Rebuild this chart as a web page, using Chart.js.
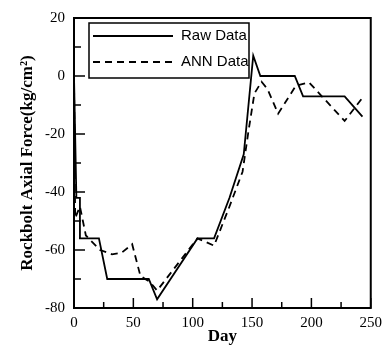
<!DOCTYPE html>
<html>
<head>
<meta charset="utf-8">
<script src="https://cdn.jsdelivr.net/npm/chart.js@4"></script>
<style>
  html, body { margin: 0; padding: 0; background: #fff; }
  #wrap { width: 388px; height: 350px; }
</style>
</head>
<body>
<div id="wrap"><canvas id="forceChart" width="388" height="350"></canvas></div>
<script>
const seriesNames = ["Raw Data", "ANN Data"];

const rawDays  = [0, 2, 5, 5, 21, 28, 63, 70, 104, 118, 131, 143, 151, 157, 186, 193, 228, 243];
const rawForce = [0, -42, -42, -56, -56, -70, -70, -77, -56, -56, -42, -27, 7, 0, 0, -7, -7, -14];

const annDays  = [0, 1, 5, 10, 22, 32, 40, 49, 56, 64, 70, 104, 118, 131, 142, 147, 152, 158, 163, 172, 187, 198, 228, 243];
const annForce = [0, -49, -45, -55, -60, -61.5, -61, -58, -69, -71, -74, -56, -58.5, -45, -33, -19, -6, -2, -4.5, -13, -3.3, -2.2, -15.5, -7.5];

const xTicks = [0, 50, 100, 150, 200, 250];
const yTicks = [-80, -60, -40, -20, 0, 20];

function toPoints(xs, ys) {
  return xs.map((x, i) => ({ x: x, y: ys[i] }));
}

const serif = "'Liberation Serif', 'Times New Roman', serif";

// box around the plot, inward ticks and the framed legend
const framePlugin = {
  id: "frame",
  afterDraw(chart) {
    const { ctx, chartArea: a, scales } = chart;
    ctx.save();
    ctx.strokeStyle = "#000";
    ctx.lineWidth = 2;
    ctx.strokeRect(a.left, a.top, a.right - a.left, a.bottom - a.top);

    ctx.lineWidth = 1.5;
    for (let v = 0; v <= 250; v += 25) {
      const px = scales.x.getPixelForValue(v);
      const len = v % 50 === 0 ? 10 : 6;
      ctx.beginPath();
      ctx.moveTo(px, a.bottom);
      ctx.lineTo(px, a.bottom - len);
      ctx.stroke();
    }
    for (let v = -80; v <= 20; v += 10) {
      const py = scales.y.getPixelForValue(v);
      const len = v % 20 === 0 ? 11 : 7;
      ctx.beginPath();
      ctx.moveTo(a.left, py);
      ctx.lineTo(a.left + len, py);
      ctx.stroke();
    }

    // legend
    const lx = a.left + 15, ly = a.top + 5;
    ctx.lineWidth = 1.5;
    ctx.strokeRect(lx, ly, 160, 55);
    ctx.font = "15px 'Liberation Sans', Arial, sans-serif";
    ctx.fillStyle = "#000";
    ctx.textBaseline = "middle";
    chart.data.datasets.forEach((ds, i) => {
      const yy = ly + 13 + i * 26;
      ctx.setLineDash(ds.borderDash || []);
      ctx.lineWidth = ds.borderWidth;
      ctx.beginPath();
      ctx.moveTo(lx + 4, yy);
      ctx.lineTo(lx + 84, yy);
      ctx.stroke();
      ctx.setLineDash([]);
      ctx.fillText(ds.label, lx + 92, yy);
    });
    ctx.restore();
  }
};

new Chart(document.getElementById("forceChart"), {
  type: "line",
  data: {
    datasets: [
      {
        label: seriesNames[0],
        data: toPoints(rawDays, rawForce),
        borderColor: "#000",
        borderWidth: 1.8,
        pointRadius: 0,
        tension: 0,
        fill: false
      },
      {
        label: seriesNames[1],
        data: toPoints(annDays, annForce),
        borderColor: "#000",
        borderWidth: 1.8,
        borderDash: [7, 5],
        pointRadius: 0,
        tension: 0,
        fill: false
      }
    ]
  },
  options: {
    responsive: false,
    animation: false,
    layout: { padding: { top: 15, right: 11, left: 0, bottom: 0 } },
    plugins: {
      legend: { display: false },
      tooltip: { enabled: false }
    },
    scales: {
      x: {
        type: "linear",
        min: 0,
        max: 250,
        afterBuildTicks: s => { s.ticks = xTicks.map(v => ({ value: v })); },
        afterFit: s => { s.height = 42; },
        grid: { display: false, drawTicks: false },
        border: { display: true, color: "#000", width: 2 },
        ticks: { color: "#000", padding: 6, maxRotation: 0, font: { family: serif, size: 15 } },
        title: {
          display: true,
          text: "Day",
          color: "#000",
          padding: { top: 0, bottom: 3 },
          font: { family: serif, size: 17, weight: "bold" }
        }
      },
      y: {
        type: "linear",
        min: -80,
        max: 20,
        afterBuildTicks: s => { s.ticks = yTicks.map(v => ({ value: v })); },
        afterFit: s => { s.width = 74; },
        grid: { display: false, drawTicks: false },
        border: { display: true, color: "#000", width: 2 },
        ticks: { color: "#000", padding: 9, font: { family: serif, size: 15 } },
        title: {
          display: true,
          text: "Rockbolt Axial Force(kg/cm²)",
          color: "#000",
          padding: { top: 17, bottom: 0 },
          font: { family: serif, size: 17, weight: "bold" }
        }
      }
    }
  },
  plugins: [framePlugin]
});
</script>
</body>
</html>
